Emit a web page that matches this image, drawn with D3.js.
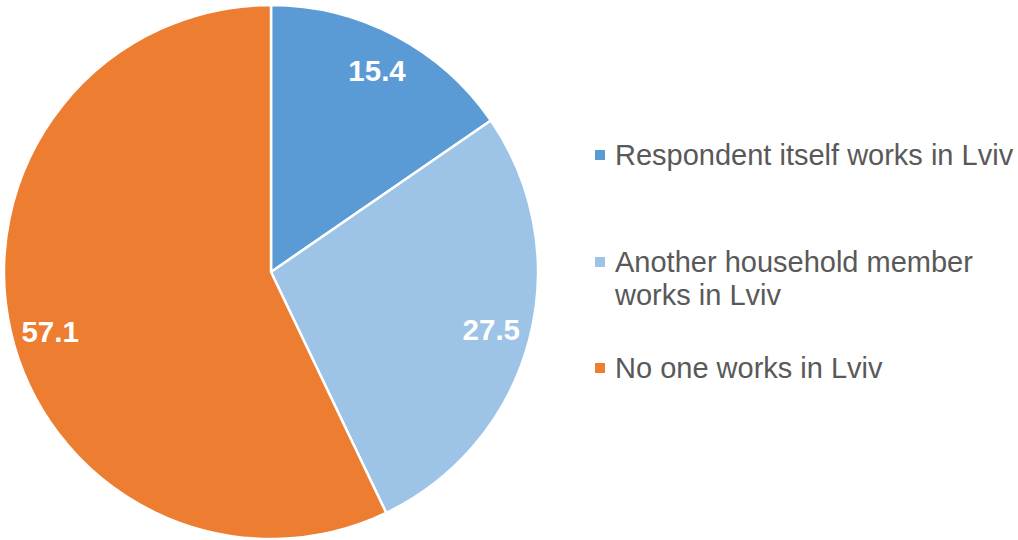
<!DOCTYPE html>
<html>
<head>
<meta charset="utf-8">
<script src="https://cdn.jsdelivr.net/npm/d3@7"></script>
<style>
  html, body { margin: 0; padding: 0; background: #fff; }
  svg { display: block; }
</style>
</head>
<body>
<div id="chart"></div>
<script>
// Who in the household works in Lviv (% of respondents)
const categories = [
  "Respondent itself works in Lviv",
  "Another household member works in Lviv",
  "No one works in Lviv"
];
const values = [15.4, 27.5, 57.1];
const colors = ["#5B9BD5", "#9DC3E6", "#ED7D31"];
// legend entries, wrapped as they appear
const legendLines = [
  ["Respondent itself works in Lviv"],
  ["Another household member", "works in Lviv"],
  ["No one works in Lviv"]
];

const width = 1018, height = 540;
const cx = 271, cy = 272, radius = 267;

const svg = d3.select("#chart").append("svg")
  .attr("width", width).attr("height", height);

const data = categories.map((c, i) => ({ name: c, value: values[i], color: colors[i] }));

const pie = d3.pie().value(d => d.value).sort(null);
const arc = d3.arc().innerRadius(0).outerRadius(radius);
const labelArc = d3.arc().innerRadius(228).outerRadius(228);
// small vertical nudges for the value labels (px)
const labelNudge = [0, -1, 9];

const g = svg.append("g").attr("transform", `translate(${cx},${cy})`);
const arcs = pie(data);

g.selectAll("path.slice").data(arcs).join("path")
  .attr("class", "slice")
  .attr("d", arc)
  .attr("fill", d => d.data.color)
  .attr("stroke", "#fff")
  .attr("stroke-width", 2.5)
  .attr("stroke-linejoin", "round");

g.selectAll("text.val").data(arcs).join("text")
  .attr("class", "val")
  .attr("transform", (d, i) => {
    const [x, y] = labelArc.centroid(d);
    return `translate(${x + (i === 2 ? 1.5 : 0)},${y + labelNudge[i]})`;
  })
  .attr("text-anchor", "middle")
  .attr("dy", "0.36em")
  .attr("fill", "#fff")
  .attr("font-family", "Liberation Sans, Arial, sans-serif")
  .attr("font-weight", "bold")
  .attr("font-size", 29.5)
  .text(d => d.data.value.toFixed(1));

// legend
const legendBaselines = [[165], [272, 305], [378]];
const legend = svg.append("g");
data.forEach((d, i) => {
  const base = legendBaselines[i][0];
  legend.append("rect")
    .attr("x", 595).attr("y", base - 15)
    .attr("width", 10).attr("height", 10)
    .attr("fill", d.color);
  legendLines[i].forEach((line, j) => {
    legend.append("text")
      .attr("x", 615).attr("y", legendBaselines[i][j])
      .attr("fill", "#595959")
      .attr("font-family", "Liberation Sans, Arial, sans-serif")
      .attr("font-size", 29)
      .text(line);
  });
});
</script>
</body>
</html>
